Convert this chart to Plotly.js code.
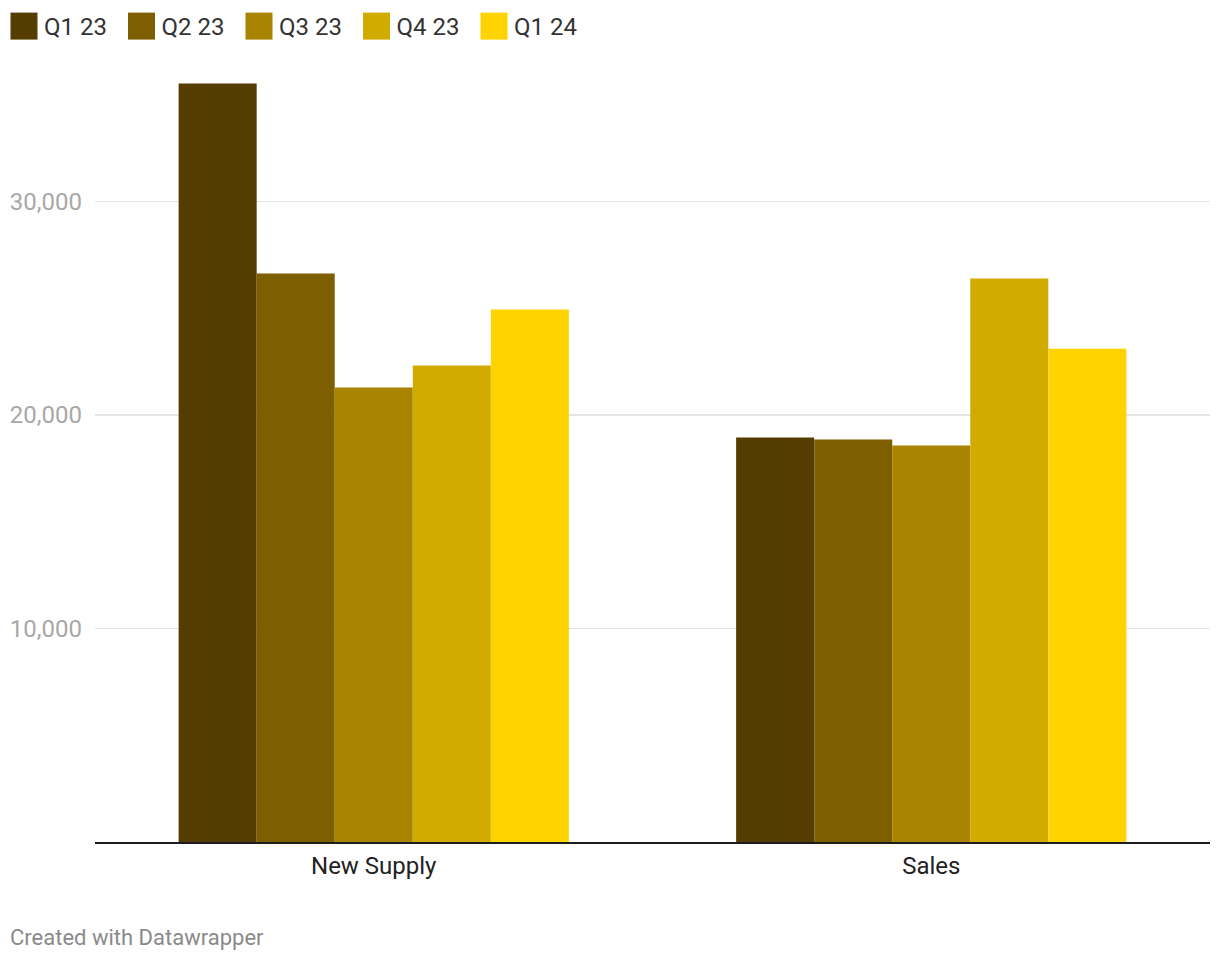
<!DOCTYPE html>
<html>
<head>
<meta charset="utf-8">
<script src="https://cdn.plot.ly/plotly-3.0.1.min.js"></script>
<style>
  html, body { margin: 0; padding: 0; background: #fff; }
  #chart { width: 1220px; height: 964px; }
</style>
</head>
<body>
<div id="chart"></div>
<script>
// ---- data ----
const categories = ["New Supply", "Sales"];
const seriesNames = ["Q1 23", "Q2 23", "Q3 23", "Q4 23", "Q1 24"];
const newSupply = [35530, 26630, 21290, 22320, 24940];
const sales = [18950, 18850, 18570, 26390, 23110];
const yTickVals = [10000, 20000, 30000];
const yTickText = ["10,000", "20,000", "30,000"];
const colors = ["#553c00", "#7d5e00", "#a88400", "#d1ab00", "#ffd300"];

const FONT = "Roboto, 'Open Sans', sans-serif";

const traces = seriesNames.map((name, i) => ({
  type: "bar",
  name: name,
  x: categories,
  y: [newSupply[i], sales[i]],
  marker: { color: colors[i], line: { width: 0 } },
  hoverinfo: "skip"
}));

const layout = {
  width: 1220,
  height: 964,
  margin: { l: 95, r: 10, t: 60, b: 122, pad: 0 },
  paper_bgcolor: "#ffffff",
  plot_bgcolor: "#ffffff",
  font: { family: FONT, size: 24, color: "#333333" },
  barmode: "group",
  bargap: 0.3,
  bargroupgap: 0,
  showlegend: true,
  legend: {
    orientation: "h",
    xref: "container", yref: "container",
    x: 4 / 1220, xanchor: "left",
    y: 1 - 4 / 964, yanchor: "top",
    font: { family: FONT, size: 24, color: "#333333" },
    entrywidth: 72.5, entrywidthmode: "pixels",
    traceorder: "normal",
    bgcolor: "rgba(0,0,0,0)",
    borderwidth: 0
  },
  xaxis: {
    type: "category",
    range: [-0.5, 1.5],
    showgrid: false,
    zeroline: false,
    showline: true,
    linecolor: "#1d1d1d",
    linewidth: 2,
    layer: "above traces",
    ticks: "",
    ticklabelstandoff: 1,
    tickfont: { family: FONT, size: 24, color: "#222222" },
    fixedrange: true
  },
  yaxis: {
    range: [0, 36630],
    tickvals: yTickVals,
    ticktext: yTickText,
    showgrid: true,
    gridcolor: "#e5e5e5",
    gridwidth: 1.7,
    zeroline: false,
    showline: false,
    ticks: "",
    ticklabelstandoff: 12,
    tickfont: { family: FONT, size: 24, color: "#a8a8a8" },
    fixedrange: true
  },
  annotations: [{
    text: "Created with Datawrapper",
    xref: "paper", yref: "paper",
    x: -87 / 1115, xanchor: "left",
    y: -(938 - 842) / 782, yanchor: "middle",
    showarrow: false,
    font: { family: FONT, size: 22, color: "#8a8a8a" }
  }]
};

Plotly.newPlot("chart", traces, layout, { displayModeBar: false, staticPlot: true }).then(gd => {
  // enlarge legend swatches to match the reference's square keys
  gd.querySelectorAll(".legend .legendpoints path").forEach(p => {
    p.setAttribute("d", "M13.5,13.5H-13.5V-13.5H13.5Z");
  });
});
</script>
</body>
</html>
